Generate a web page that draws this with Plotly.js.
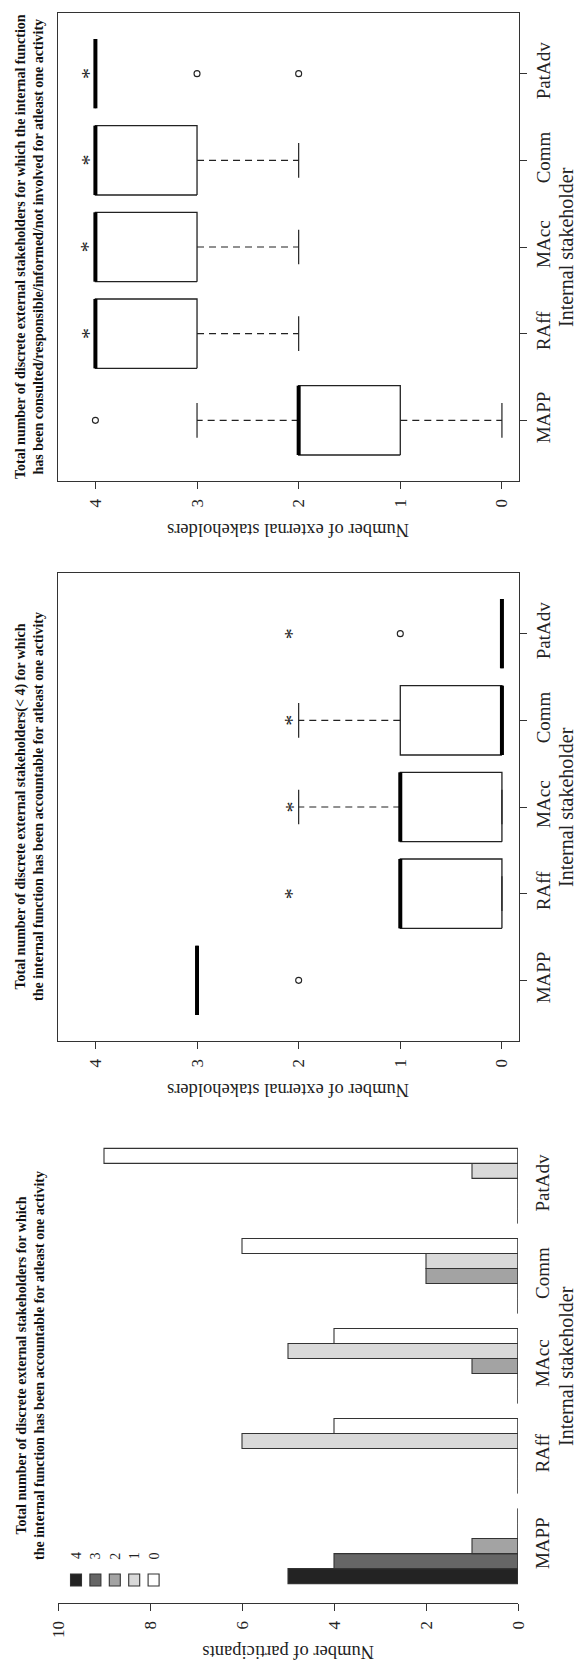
<!DOCTYPE html>
<html><head><meta charset="utf-8">
<script src="https://cdn.plot.ly/plotly-3.0.1.min.js"></script>
<style>html,body{margin:0;padding:0;background:#fff}</style>
</head><body><div id="chart" style="width:578px;height:1665px"></div>
<script>
// ---------- DATA ----------
const categories = ["MAPP", "RAff", "MAcc", "Comm", "PatAdv"];

// Panel 1: consulted/responsible/informed/not involved (box statistics)
const cons_lower  = [0, 2, 2, 2, 4];
const cons_q1     = [1, 3, 3, 3, 4];
const cons_median = [2, 4, 4, 4, 4];
const cons_q3     = [2, 4, 4, 4, 4];
const cons_upper  = [3, 4, 4, 4, 4];
const cons_outliers = [[4], [], [], [], [3, 2]];
const cons_star   = [null, 4.1, 4.1, 4.1, 4.1];

// Panel 2: accountable (< 4) (box statistics)
const acc_lower  = [3, 0, 0, 0, 0];
const acc_q1     = [3, 0, 0, 0, 0];
const acc_median = [3, 1, 1, 0, 0];
const acc_q3     = [3, 1, 1, 1, 0];
const acc_upper  = [3, 1, 2, 2, 0];
const acc_outliers = [[2], [], [], [], [1]];
const acc_star   = [null, 2.1, 2.1, 2.1, 2.1];

// Panel 3: number of participants by number of external stakeholders
const levels = ["4", "3", "2", "1", "0"];
const counts_4 = [5, 0, 0, 0, 0];
const counts_3 = [4, 0, 0, 0, 0];
const counts_2 = [1, 0, 1, 2, 0];
const counts_1 = [0, 6, 5, 2, 1];
const counts_0 = [0, 4, 4, 6, 9];

const boxTicks = [0, 1, 2, 3, 4];
const barTicks = [0, 2, 4, 6, 8, 10];

const title1 = "Total number of discrete external stakeholders for which the internal function<br>has been consulted/responsible/informed/not involved for atleast one activity";
const title2 = "Total number of discrete external stakeholders(< 4) for which<br>the internal function has been accountable for atleast one activity";
const title3 = "Total number of discrete external stakeholders for which<br>the internal function has been accountable for atleast one activity";
const xTitle = "Internal stakeholder";
const yTitleBox = "Number of external stakeholders";
const yTitleBar = "Number of participants";

// ---------- LAYOUT HELPERS ----------
const W = 578, H = 1665;
const PX = v => v / W;
const PY = v => 1 - v / H;
const FONT = "Liberation Serif";
const INK = "#222";

const panels = [
  {top: 13, bottom: 481},
  {top: 573, bottom: 1041},
  {top: 1131, bottom: 1601}
];
const frameL = 58, frameR = 519;

const traces = [];
const annotations = [];
const shapes = [];

function ann(o) {
  return Object.assign({showarrow: false, xanchor: "center", yanchor: "middle"}, o);
}

function boxTraces(xa, ya, lower, q1, med, q3, upper, outl) {
  const w = 0.4, sw = 0.2;
  const bx = [], by = [], mx = [], my = [], wx = [], wy = [], sx = [], sy = [], ox = [], oy = [];
  categories.forEach((c, i) => {
    const p = i + 1;
    bx.push(q1[i], q3[i], q3[i], q1[i], q1[i], null);
    by.push(p - w, p - w, p + w, p + w, p - w, null);
    mx.push(med[i], med[i], null); my.push(p - w, p + w, null);
    wx.push(q3[i], upper[i], null, q1[i], lower[i], null);
    wy.push(p, p, null, p, p, null);
    sx.push(upper[i], upper[i], null, lower[i], lower[i], null);
    sy.push(p - sw, p + sw, null, p - sw, p + sw, null);
    outl[i].forEach(v => { ox.push(v); oy.push(p); });
  });
  const base = {xaxis: xa, yaxis: ya, mode: "lines", hoverinfo: "skip", showlegend: false};
  traces.push(Object.assign({}, base, {x: wx, y: wy, line: {color: INK, width: 1.2, dash: "7px,5px"}}));
  traces.push(Object.assign({}, base, {x: sx, y: sy, line: {color: INK, width: 1.2}}));
  traces.push(Object.assign({}, base, {x: bx, y: by, line: {color: INK, width: 1.3}}));
  traces.push(Object.assign({}, base, {x: mx, y: my, line: {color: "#000", width: 4}}));
  traces.push({xaxis: xa, yaxis: ya, mode: "markers", x: ox, y: oy, showlegend: false, hoverinfo: "skip",
    marker: {symbol: "circle-open", size: 6, color: INK, line: {width: 1.1, color: INK}}});
}
function stars(xa, ya, pos) {
  pos.forEach((v, i) => {
    if (v === null) return;
    annotations.push(ann({xref: xa, yref: ya, x: v, y: i + 1, text: "*", textangle: -90,
      font: {family: FONT, size: 22, color: INK}, xshift: 3}));
  });
}

boxTraces("x", "y", cons_lower, cons_q1, cons_median, cons_q3, cons_upper, cons_outliers);
stars("x", "y", cons_star);
boxTraces("x2", "y2", acc_lower, acc_q1, acc_median, acc_q3, acc_upper, acc_outliers);
stars("x2", "y2", acc_star);

// Bars
const barSeries = [counts_4, counts_3, counts_2, counts_1, counts_0];
const barColors = ["#232323", "#666666", "#a3a3a3", "#d9d9d9", "#ffffff"];
barSeries.forEach((vals, k) => {
  traces.push({type: "bar", orientation: "h", xaxis: "x3", yaxis: "y3", name: levels[k],
    x: vals, y: categories.map((c, i) => i), showlegend: false, hoverinfo: "skip",
    marker: {color: barColors[k], line: {color: "#333", width: 1.1}}});
});
// baseline of each group (zero-height bars are drawn as lines in the original)
{
  const lx = [], ly = [];
  categories.forEach((c, i) => { lx.push(0, 0, null); ly.push(i - 5 / 12, i + 5 / 12, null); });
  traces.push({xaxis: "x3", yaxis: "y3", mode: "lines", x: lx, y: ly, showlegend: false, hoverinfo: "skip",
    line: {color: "#333", width: 1.1}});
}
// legend (squares + labels)
levels.forEach((lv, k) => {
  const cx = 76 + k * 19.4, cy = 1580;
  shapes.push({type: "rect", xref: "paper", yref: "paper",
    x0: PX(cx - 5.5), x1: PX(cx + 5.5), y0: PY(cy + 6), y1: PY(cy - 6),
    fillcolor: barColors[k], line: {color: "#333", width: 1.1}});
  annotations.push(ann({xref: "paper", yref: "paper", x: PX(cx), y: PY(1556), text: lv,
    textangle: -90, font: {family: FONT, size: 14, color: INK}}));
});

// Titles & axis titles
const ptitles = [title1, title2, title3];
const ylabs = [yTitleBox, yTitleBox, yTitleBar];
panels.forEach((p, k) => {
  const cy = (p.top + p.bottom) / 2;
  annotations.push(ann({xref: "paper", yref: "paper", x: PX(30), y: PY(cy), text: ptitles[k],
    textangle: -90, align: "center", font: {family: FONT, size: 14, weight: "bold", color: "#111"}}));
  annotations.push(ann({xref: "paper", yref: "paper", x: PX(566), y: PY(cy), text: xTitle,
    textangle: -90, font: {family: FONT, size: 20, color: INK}}));
  const lb = k === 2 ? 1603 : p.bottom;
  annotations.push(ann({xref: "paper", yref: "paper", x: PX((frameL + frameR) / 2), y: PY(lb + 49), text: ylabs[k],
    textangle: 180, font: {family: FONT, size: 18.5, color: INK}}));
});

function valAxis(domain, range, ticks, anchor, extra) {
  return Object.assign({domain: domain, range: range, tickvals: ticks, ticks: "outside", ticklen: 7,
    tickwidth: 1, tickcolor: "#333", tickangle: -90, tickfont: {family: FONT, size: 17, color: INK},
    showline: true, linecolor: "#333", linewidth: 1.2, showgrid: false, zeroline: false, anchor: anchor,
    ticklabelstandoff: 3, fixedrange: true}, extra || {});
}
function catAxis(domain, range, anchor, extra) {
  return Object.assign({domain: domain, range: range, tickvals: [1, 2, 3, 4, 5], ticktext: categories,
    side: "right", ticks: "outside", ticklen: 7, tickwidth: 1, tickcolor: "#333", tickangle: -90,
    tickfont: {family: FONT, size: 19, color: INK}, showline: true, mirror: true, linecolor: "#333", linewidth: 1.2,
    showgrid: false, zeroline: false, anchor: anchor, fixedrange: true}, extra || {});
}

const layout = {
  width: W, height: H, margin: {l: 0, r: 0, t: 0, b: 0}, paper_bgcolor: "#fff", plot_bgcolor: "#fff",
  showlegend: false, barmode: "group", bargap: 1 / 6, bargroupgap: 0,
  font: {family: FONT, color: INK},
  xaxis: valAxis([PX(frameL), PX(frameR)], [4.368, -0.168], boxTicks, "y", {mirror: true}),
  yaxis: catAxis([PY(panels[0].bottom), PY(panels[0].top)], [0.3, 5.7], "x"),
  xaxis2: valAxis([PX(frameL), PX(frameR)], [4.368, -0.168], boxTicks, "y2", {mirror: true}),
  yaxis2: catAxis([PY(panels[1].bottom), PY(panels[1].top)], [0.3, 5.7], "x2"),
  xaxis3: valAxis([PX(frameL), PX(518)], [10, 0], barTicks, "free", {position: PY(1603)}),
  yaxis3: catAxis([PY(panels[2].bottom), PY(panels[2].top)], [-0.61, 4.61], "x3",
    {tickvals: [0, 1, 2, 3, 4], showline: false, mirror: false, tickcolor: "rgba(0,0,0,0)"}),
  annotations: annotations,
  shapes: shapes
};

Plotly.newPlot("chart", traces, layout, {staticPlot: true, displayModeBar: false});
</script></body></html>
